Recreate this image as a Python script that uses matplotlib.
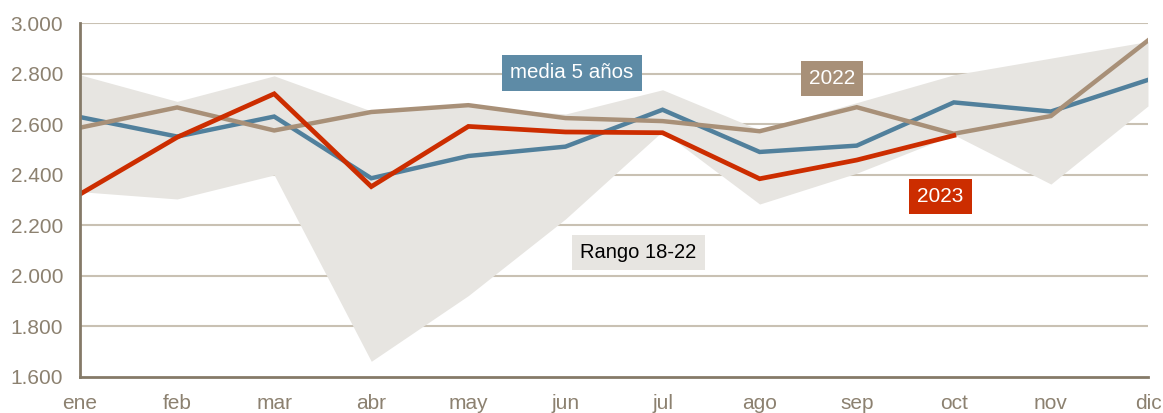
import matplotlib.pyplot as plt

plt.rcParams['font.family'] = ['Liberation Sans', 'DejaVu Sans']

# Meses
meses = ['ene', 'feb', 'mar', 'abr', 'may', 'jun', 'jul', 'ago', 'sep', 'oct', 'nov', 'dic']

# Series
media_5 = [2628, 2551, 2630, 2386, 2474, 2511, 2657, 2490, 2515, 2686, 2650, 2775]
anio_2022 = [2586, 2666, 2575, 2648, 2675, 2624, 2612, 2572, 2667, 2562, 2632, 2931]
anio_2023 = [2323, 2548, 2720, 2353, 2591, 2569, 2566, 2384, 2458, 2555]

# Rango 18-22
rango_max = [2795, 2690, 2791, 2652, 2670, 2640, 2736, 2577, 2685, 2795, 2861, 2927]
rango_min = [2333, 2304, 2399, 1662, 1922, 2225, 2572, 2284, 2406, 2558, 2363, 2672]

x = list(range(len(meses)))

c_azul = '#51809c'
c_tan = '#a89078'
c_rojo = '#cc2d00'
c_band = '#e7e5e1'
c_eje = '#857a68'
c_texto = '#8c8170'
c_grid = '#c9c1b3'

fig = plt.figure(figsize=(11.63, 4.13), dpi=100)
ax = fig.add_axes([0.0688, 0.0872, 0.9183, 0.8571])

ax.fill_between(x, rango_min, rango_max, color=c_band, lw=0, zorder=1)
ax.plot(x, media_5, color=c_azul, lw=3.2, zorder=3, solid_joinstyle='miter')
ax.plot(x, anio_2022, color=c_tan, lw=3.2, zorder=4, solid_joinstyle='miter')
ax.plot(x[:len(anio_2023)], anio_2023, color=c_rojo, lw=3.4, zorder=5, solid_joinstyle='miter')

ax.set_xlim(0, 11)
ax.set_ylim(1600, 3000)
yt = list(range(1600, 3001, 200))
ax.set_yticks(yt)
ax.set_yticklabels([f'{v:,}'.replace(',', '.') for v in yt])
ax.set_xticks(x)
ax.set_xticklabels(meses)
ax.tick_params(axis='both', length=0, labelsize=15, colors=c_texto)
ax.tick_params(axis='y', pad=12)
ax.tick_params(axis='x', pad=12)

for v in yt[1:]:
    ax.axhline(v, color=c_grid, lw=1.5, zorder=0.5)

for s in ['top', 'right']:
    ax.spines[s].set_visible(False)
for s in ['left', 'bottom']:
    ax.spines[s].set_color(c_eje)
    ax.spines[s].set_linewidth(2)
    ax.spines[s].set_zorder(6)

# Etiquetas de series
ax.text(5.067, 2803, 'media 5 años', color='white', fontsize=14.8, ha='center', va='center', zorder=7,
        bbox=dict(boxstyle='square,pad=0.4', fc='#5e8ba6', ec='none'))
ax.text(7.75, 2781, '2022', color='white', fontsize=15, ha='center', va='center', zorder=7,
        bbox=dict(boxstyle='square,pad=0.38', fc=c_tan, ec='none'))
ax.text(8.863, 2314, '2023', color='white', fontsize=15, ha='center', va='center', zorder=7,
        bbox=dict(boxstyle='square,pad=0.38', fc=c_rojo, ec='none'))
ax.text(5.752, 2094, 'Rango 18-22', color='black', fontsize=14.5, ha='center', va='center', zorder=7,
        bbox=dict(boxstyle='square,pad=0.4', fc=c_band, ec='none'))

fig.savefig('out.png', dpi=100)
